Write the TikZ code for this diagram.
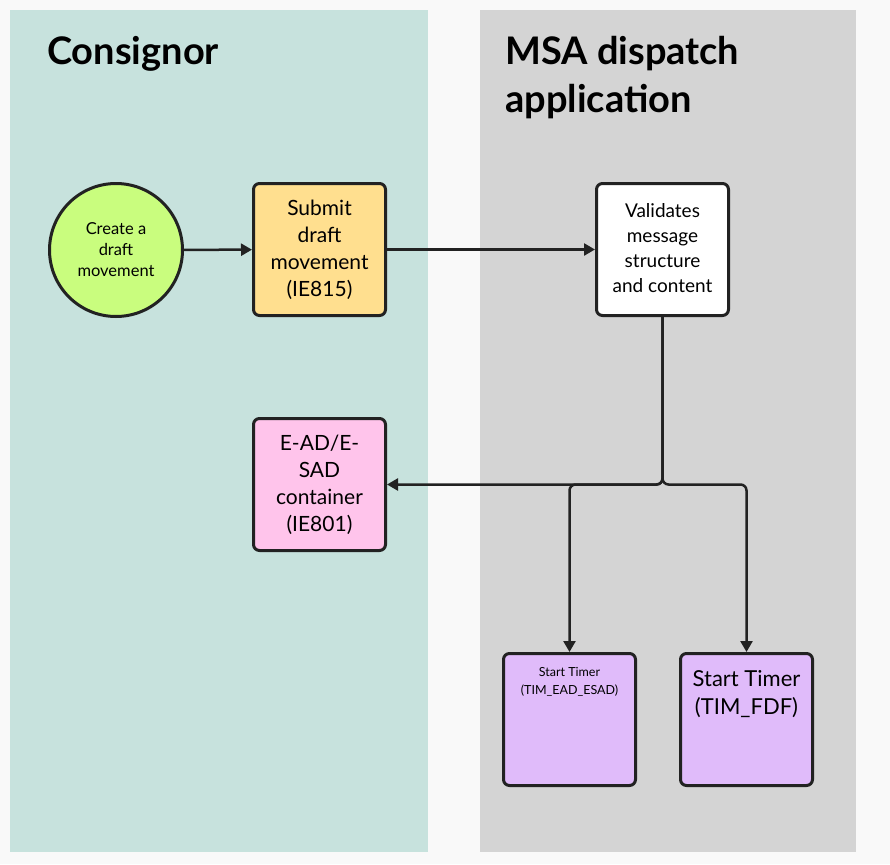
\documentclass[tikz,border=0pt]{standalone}
\usepackage{fontspec}
\setmainfont{Lato}
\usetikzlibrary{arrows.meta}
\definecolor{pagec}{HTML}{F9F9F9}
\definecolor{consignorc}{HTML}{C7E2DD}
\definecolor{msac}{HTML}{D4D4D4}
\definecolor{startc}{HTML}{C9FD7E}
\definecolor{submitc}{HTML}{FFDF8F}
\definecolor{containerc}{HTML}{FFC4EB}
\definecolor{timerc}{HTML}{E0BBFA}
\definecolor{edgec}{HTML}{222222}
\tikzset{
	box/.style={draw=edgec, line width=3pt, rounded corners=6pt, minimum width=132pt, minimum height=132pt, inner sep=0pt, align=center},
	flow/.style={draw=edgec, line width=2.5pt, rounded corners=6pt, -{Triangle[length=11pt,width=12pt]}},
	title/.style={anchor=base west, inner sep=0pt, align=left, font=\fontsize{38}{48}\selectfont\bfseries}
}

\begin{document}
\begin{tikzpicture}[x=1pt, y=-1pt]
			%%%%% START %%%%%
			\useasboundingbox (0, 0) rectangle (890, 864);
			\fill[pagec] (0, 0) rectangle (890, 864);
			
			% lanes
			\fill[consignorc] (10, 10) rectangle (428, 852);
			\fill[msac] (480, 10) rectangle (856, 852);
			\node[title] (tconsignor) at (47, 65) {Consignor};
			\node[title] (tmsa) at (505, 113) {MSA dispatch\\application};
			
			% consignor
			\node[draw=edgec, line width=3pt, circle, fill=startc, minimum size=133pt, inner sep=0pt, align=center, font=\fontsize{16.5}{21}\selectfont] (create) at (116, 250) {Create a\\draft\\movement};
			\node[box, fill=submitc, font=\fontsize{21}{27}\selectfont] (submit) at (319.5, 249.5) {Submit\\draft\\movement\\(IE815)};
			\node[box, fill=containerc, font=\fontsize{21}{27}\selectfont] (container) at (319.5, 484.5) {E-AD/E-\\SAD\\container\\(IE801)};
			
			% msa dispatch application
			\node[box, fill=white, font=\fontsize{19}{25}\selectfont] (validate) at (662.5, 249.5) {\raisebox{3pt}{\begin{tabular}{@{}c@{}}Validates\\message\\structure\\and content\end{tabular}}};
			\node[box, fill=timerc, label={[anchor=north, inner sep=0pt, yshift=-15pt, align=center, font=\fontsize{12.5}{18}\selectfont]north:{Start Timer\\(TIM\_EAD\_ESAD)}}] (timerA) at (569.5, 719.5) {};
			\node[box, fill=timerc, label={[anchor=north, inner sep=0pt, yshift=-18pt, align=center, font=\fontsize{22}{28}\selectfont]north:{Start Timer\\(TIM\_FDF)}}] (timerB) at (746.5, 719.5) {};
			
			% flows
			\coordinate (split) at (validate.south |- container.east);
			\draw[flow] (create) -- (submit);
			\draw[flow] (submit) -- (validate);
			\draw[flow] (validate.south) |- (container.east);
			\draw[flow] (validate.south) -- (split) -| (timerA.north);
			\draw[flow] (validate.south) -- (split) -| (timerB.north);
			%%%%% END %%%%%
\end{tikzpicture}
\end{document}
